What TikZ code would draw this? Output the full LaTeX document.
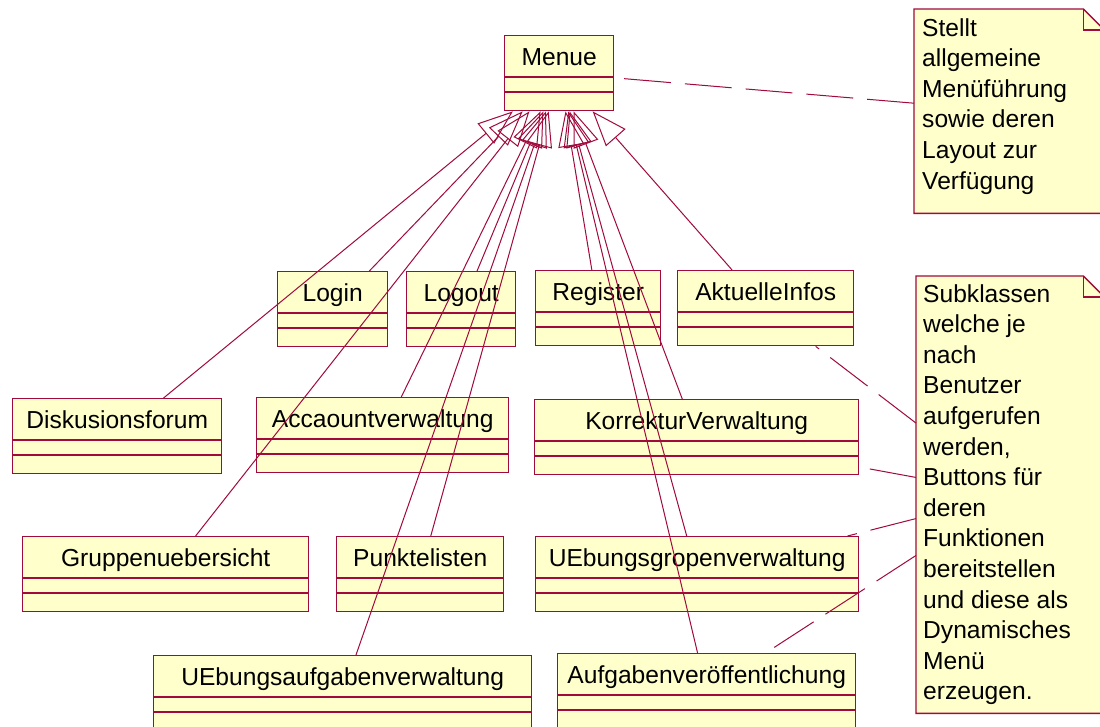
\documentclass[tikz,border=0pt]{standalone}
\usepackage{fontspec}
\setmainfont{Liberation Sans}
\usetikzlibrary{arrows.meta,calc}
\definecolor{rosered}{RGB}{160,10,60}
\definecolor{roseyellow}{RGB}{255,255,204}
\tikzset{
  cls/.style={draw=rosered, fill=roseyellow, line width=1.4pt, rectangle, inner sep=0pt, minimum height=75pt, anchor=north west},
  clsdiv/.style={draw=rosered, line width=1.1pt},
  clsname/.style={font=\fontsize{24.6}{29}\selectfont, inner sep=0pt, anchor=base},
  gen/.style={draw=rosered, line width=1pt, -{Triangle[open, length=35pt, width=26pt]}},
  notelink/.style={draw=rosered, line width=1pt, dash pattern=on 47pt off 14pt},
  notebox/.style={draw=none, rectangle, inner sep=0pt, anchor=north west},
  noteshape/.style={draw=rosered, fill=roseyellow, line width=1.4pt, line join=miter},
  notetext/.style={font=\fontsize{24.6}{30.6}\selectfont, inner sep=0pt, align=left, anchor=north west},
}
\newcommand{\umlclass}[5]{%
  \node[cls, minimum width=#4] (#1) at (#2,#3) {};
  \draw[clsdiv] ($(#1.north west)+(0,42)$) -- ($(#1.north east)+(0,42)$)
                ($(#1.north west)+(0,57)$) -- ($(#1.north east)+(0,57)$);
  \node[clsname] (#1-name) at ($(#1.north)+(0,30)$) {#5};
}
\newcommand{\umlnote}[5]{% name, x, y, w, h
  \node[notebox, minimum width=#4, minimum height=#5] (#1) at (#2,#3) {};
  \draw[noteshape] (#1.north west) -- ($(#1.north east)+(-21,0)$) -- ($(#1.north east)+(0,21)$)
        -- (#1.south east) -- (#1.south west) -- cycle;
  \draw[noteshape, fill=none] ($(#1.north east)+(-21,0)$) -- ($(#1.north east)+(-21,21)$) -- ($(#1.north east)+(0,21)$);
}
\begin{document}
\begin{tikzpicture}[x=1pt, y=-1pt]
\useasboundingbox (0,0) rectangle (1100,726);
\fill[white] (0,0) rectangle (1100,726);

% classes
\umlclass{menue}{504}{35}{109}{Menue}
\umlclass{login}{277}{271}{110}{Login}
\umlclass{logout}{406}{271}{109}{Logout}
\umlclass{register}{535}{270}{125}{Register}
\umlclass{infos}{677}{270}{176}{AktuelleInfos}
\umlclass{forum}{12}{398}{209}{Diskusionsforum}
\umlclass{account}{256}{397}{252}{Accaountverwaltung}
\umlclass{korrektur}{534}{399}{324}{KorrekturVerwaltung}
\umlclass{gruppen}{22}{536}{286}{Gruppenuebersicht}
\umlclass{punkte}{336}{536}{167}{Punktelisten}
\umlclass{uegruppen}{535}{536}{323}{UEbungsgropenverwaltung}
\umlclass{ueaufgaben}{153}{655}{378}{UEbungsaufgabenverwaltung}
\umlclass{veroeff}{557}{653}{298}{Aufgabenveröffentlichung}

% notes
\umlnote{note1}{914}{9}{190}{204}
\node[notetext] (note1-text) at (922,18) {Stellt\\allgemeine\\Menüführung\\sowie deren\\Layout zur\\Verfügung};
\umlnote{note2}{916}{276}{188}{437}
\node[notetext] (note2-text) at (923,284) {Subklassen\\welche je\\nach\\Benutzer\\aufgerufen\\werden,\\Buttons für\\deren\\Funktionen\\bereitstellen\\und diese als\\Dynamisches\\Menü\\erzeugen.};

% generalizations
\foreach \c in {login,logout,register,infos,forum,account,korrektur,gruppen,punkte,uegruppen,ueaufgaben,veroeff}
  \draw[gen] (\c) -- (menue);

% note links
\draw[notelink] (note1) -- (menue);
\draw[notelink] (note2) -- (infos);
\draw[notelink] (note2) -- (korrektur);
\draw[notelink] (note2) -- (uegruppen);
\draw[notelink] (note2) -- (veroeff);
\end{tikzpicture}
\end{document}
